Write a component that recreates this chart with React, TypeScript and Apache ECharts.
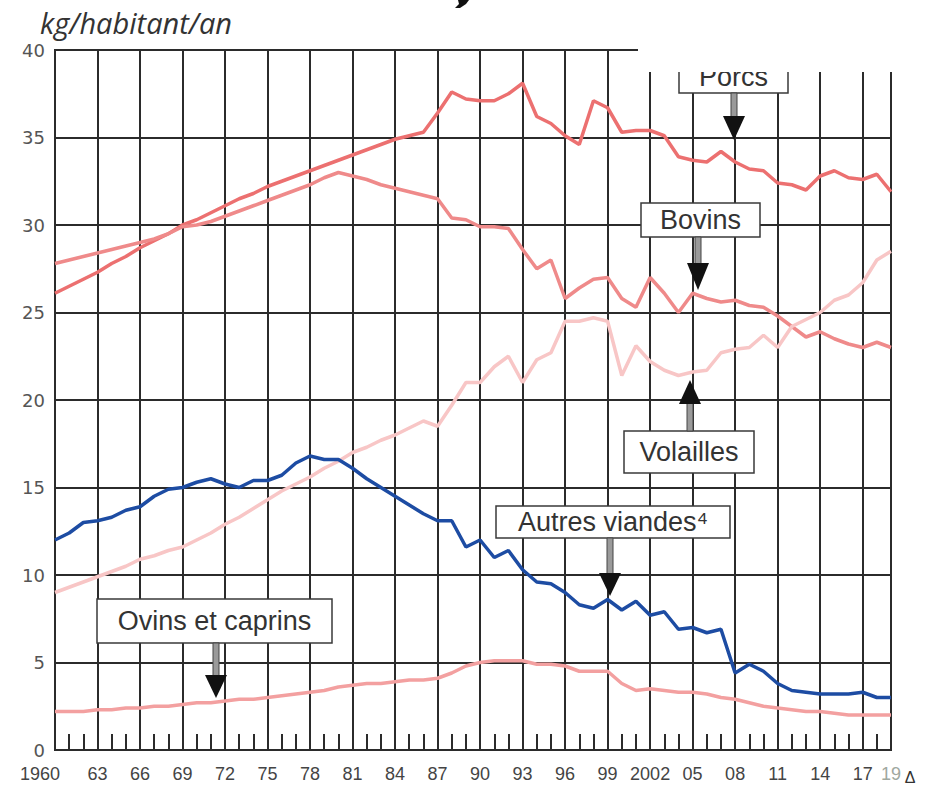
import React, { useEffect, useRef } from "react";
import * as echarts from "echarts";

const years: number[] = [];
for (let y = 1960; y <= 2019; y++) years.push(y);

const porcs = [
  26.1, 26.5, 26.9, 27.3, 27.8, 28.2, 28.7, 29.1, 29.5, 30.0,
  30.3, 30.7, 31.1, 31.5, 31.8, 32.2, 32.5, 32.8, 33.1, 33.4,
  33.7, 34.0, 34.3, 34.6, 34.9, 35.1, 35.3, 36.4, 37.6, 37.2,
  37.1, 37.1, 37.5, 38.1, 36.2, 35.8, 35.1, 34.6, 37.1, 36.7,
  35.3, 35.4, 35.4, 35.1, 33.9, 33.7, 33.6, 34.2, 33.6, 33.2,
  33.1, 32.4, 32.3, 32.0, 32.8, 33.1, 32.7, 32.6, 32.9, 31.9,
];
const bovins = [
  27.8, 28.0, 28.2, 28.4, 28.6, 28.8, 29.0, 29.2, 29.5, 29.9,
  30.0, 30.2, 30.5, 30.8, 31.1, 31.4, 31.7, 32.0, 32.3, 32.7,
  33.0, 32.8, 32.6, 32.3, 32.1, 31.9, 31.7, 31.5, 30.4, 30.3,
  29.9, 29.9, 29.8, 28.6, 27.5, 28.0, 25.8, 26.4, 26.9, 27.0,
  25.8, 25.3, 27.0, 26.1, 25.0, 26.1, 25.8, 25.6, 25.7, 25.4,
  25.3, 24.8, 24.2, 23.6, 23.9, 23.5, 23.2, 23.0, 23.3, 23.0,
];
const volailles = [
  9.0, 9.3, 9.6, 9.9, 10.2, 10.5, 10.9, 11.1, 11.4, 11.6,
  12.0, 12.4, 12.9, 13.3, 13.8, 14.3, 14.8, 15.2, 15.6, 16.1,
  16.5, 17.0, 17.3, 17.7, 18.0, 18.4, 18.8, 18.5, 19.7, 21.0,
  21.0, 21.9, 22.5, 21.0, 22.3, 22.7, 24.5, 24.5, 24.7, 24.5,
  21.4, 23.1, 22.2, 21.7, 21.4, 21.6, 21.7, 22.7, 22.9, 23.0,
  23.7, 23.0, 24.2, 24.6, 25.0, 25.7, 26.0, 26.7, 28.0, 28.5,
];
const autresViandes = [
  12.0, 12.4, 13.0, 13.1, 13.3, 13.7, 13.9, 14.5, 14.9, 15.0,
  15.3, 15.5, 15.2, 15.0, 15.4, 15.4, 15.7, 16.4, 16.8, 16.6,
  16.6, 16.1, 15.5, 15.0, 14.5, 14.0, 13.5, 13.1, 13.1, 11.6,
  12.0, 11.0, 11.4, 10.3, 9.6, 9.5, 9.0, 8.3, 8.1, 8.6,
  8.0, 8.5, 7.7, 7.9, 6.9, 7.0, 6.7, 6.9, 4.4, 4.9,
  4.5, 3.8, 3.4, 3.3, 3.2, 3.2, 3.2, 3.3, 3.0, 3.0,
];
const ovinsCaprins = [
  2.2, 2.2, 2.2, 2.3, 2.3, 2.4, 2.4, 2.5, 2.5, 2.6,
  2.7, 2.7, 2.8, 2.9, 2.9, 3.0, 3.1, 3.2, 3.3, 3.4,
  3.6, 3.7, 3.8, 3.8, 3.9, 4.0, 4.0, 4.1, 4.4, 4.8,
  5.0, 5.1, 5.1, 5.1, 4.9, 4.9, 4.8, 4.5, 4.5, 4.5,
  3.8, 3.4, 3.5, 3.4, 3.3, 3.3, 3.2, 3.0, 2.9, 2.7,
  2.5, 2.4, 2.3, 2.2, 2.2, 2.1, 2.0, 2.0, 2.0, 2.0,
];

const unitLabel = "kg/habitant/an";
const seriesNames = ["Porcs", "Bovins", "Volailles", "Autres viandes⁴", "Ovins et caprins"];

const GRID = "#2b2b2b";
const LABEL_FONT = "'Liberation Sans', Arial, sans-serif";

function box(x: number, y: number, w: number, h: number, text: string, tx: number, ty: number) {
  return [
    { type: "rect", z: 10, shape: { x, y, width: w, height: h }, style: { fill: "#fff", stroke: "#3a3a3a", lineWidth: 1.5 } },
    {
      type: "text", z: 11, x: tx, y: ty,
      style: {
        text, fill: "#333", fontSize: 27, fontFamily: LABEL_FONT,
        align: "center", verticalAlign: "middle", textAlign: "center", textVerticalAlign: "middle",
      },
    },
  ];
}

function arrow(cx: number, y1: number, y2: number, headBase: number, tip: number) {
  return [
    { type: "rect", z: 10, shape: { x: cx - 3, y: y1, width: 6, height: y2 - y1 }, style: { fill: "#9a9a9a", stroke: "#444", lineWidth: 1 } },
    { type: "polygon", z: 11, shape: { points: [[cx - 11, headBase], [cx + 11, headBase], [cx, tip]] }, style: { fill: "#111" } },
  ];
}

export default function App() {
  const ref = useRef<HTMLDivElement>(null);
  useEffect(() => {
    if (!ref.current) return;
    const chart = echarts.init(ref.current, null, { renderer: "svg" });
    const mk = (name: string, data: number[], color: string, width = 3.5) => ({
      name, type: "line", data, symbol: "none", smooth: false,
      lineStyle: { color, width }, z: 5,
    });
    const option: any = {
      animation: false,
      grid: { left: 55, top: 50, width: 836, height: 700, show: true, borderColor: GRID, borderWidth: 2, backgroundColor: "transparent" },
      xAxis: {
        type: "category",
        data: years.map(String),
        boundaryGap: false,
        axisLine: { show: true, lineStyle: { color: GRID, width: 2 } },
        axisTick: { show: true, inside: true, length: 16, interval: 0, lineStyle: { color: GRID, width: 2 } },
        axisLabel: {
          interval: (i: number) => i % 3 === 0 || i === years.length - 1,
          formatter: (v: string) => {
            const y = Number(v);
            if (y === 1960) return "{first|1960}";
            if (y === 2002) return "2002";
            if (y === 2019) return "{faint|19}";
            return v.slice(2);
          },
          fontFamily: LABEL_FONT, fontSize: 18, color: "#444", margin: 15,
          rich: {
            first: { padding: [0, 30, 0, 0], fontFamily: LABEL_FONT, fontSize: 18, color: "#444" },
            faint: { fontFamily: LABEL_FONT, fontSize: 18, color: "#a0a8a0" },
          },
        },
        splitLine: { show: true, interval: 2, lineStyle: { color: GRID, width: 2 } },
      },
      yAxis: {
        type: "value", min: 0, max: 40, interval: 5,
        axisLine: { show: true, lineStyle: { color: GRID, width: 2 } },
        axisTick: { show: false },
        axisLabel: { fontFamily: "'DejaVu Sans', sans-serif", fontSize: 18, color: "#555", margin: 10 },
        splitLine: { show: true, lineStyle: { color: GRID, width: 2 } },
      },
      series: [
        mk(seriesNames[0], porcs, "#ec7070"),
        mk(seriesNames[1], bovins, "#ef8a8a"),
        mk(seriesNames[2], volailles, "#f8c6c6"),
        mk(seriesNames[3], autresViandes, "#1d4ca3"),
        mk(seriesNames[4], ovinsCaprins, "#f3a0a0"),
      ],
      graphic: [
        {
          type: "text", z: 20, x: 40, y: 22,
          style: {
            text: unitLabel, fill: "#333", fontSize: 29, fontStyle: "italic",
            fontFamily: "'Open Sans', sans-serif",
            align: "left", verticalAlign: "middle", textAlign: "left", textVerticalAlign: "middle",
          },
        },
        {
          type: "polygon", z: 20,
          shape: { points: [[458, 0], [469, 0], [466, 4], [460, 8], [455, 8], [459, 4]] },
          style: { fill: "#111" },
        },
        ...box(679, 50, 109, 43, seriesNames[0], 733.5, 77),
        ...arrow(734, 93, 117, 116, 140),
        { type: "rect", z: 30, shape: { x: 638, y: 0, width: 292, height: 72 }, style: { fill: "#fff" } },
        ...box(641, 203, 119, 34, seriesNames[1], 700.5, 220),
        ...arrow(698, 237, 264, 263, 290),
        ...box(624, 431, 130, 42, seriesNames[2], 689, 452),
        ...arrow(690, 403, 431, 404, 380),
        ...box(496, 506, 234, 32, seriesNames[3], 613, 522),
        ...arrow(610, 538, 574, 573, 596),
        ...box(97, 599, 235, 44, seriesNames[4], 214.5, 621),
        ...arrow(216, 643, 676, 675, 698),
        {
          type: "text", z: 20, x: 910, y: 777,
          style: {
            text: "Δ", fill: "#333", fontSize: 16, fontFamily: LABEL_FONT,
            align: "center", verticalAlign: "middle", textAlign: "center", textVerticalAlign: "middle",
          },
        },
      ],
    };
    chart.setOption(option);
    return () => chart.dispose();
  }, []);
  return <div ref={ref} style={{ position: "absolute", left: 0, top: 0, width: 930, height: 785, background: "#fff" }} />;
}
